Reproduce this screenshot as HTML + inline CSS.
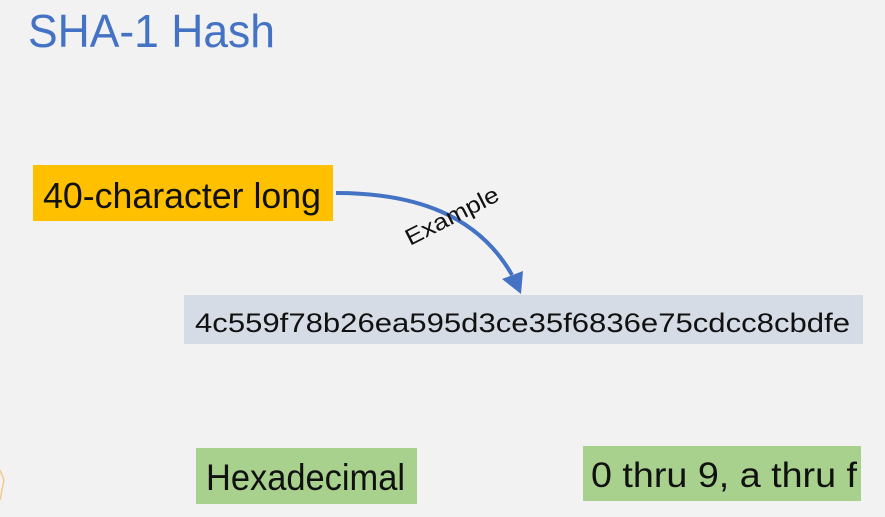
<!DOCTYPE html>
<html><head><meta charset="utf-8"><style>
html,body{margin:0;padding:0;background:#f2f2f2;}
svg{display:block;}
text{font-family:"Liberation Sans",sans-serif;}
</style></head><body>
<svg width="885" height="517" viewBox="0 0 885 517" xmlns="http://www.w3.org/2000/svg">
<rect width="885" height="517" fill="#f2f2f2"/>
<text x="28" y="47" font-size="46" fill="#4472c4" textLength="247" lengthAdjust="spacingAndGlyphs">SHA-1 Hash</text>
<rect x="33" y="165" width="300" height="56" fill="#ffc000"/>
<text x="43" y="208" font-size="36" fill="#111" textLength="278" lengthAdjust="spacingAndGlyphs">40-character long</text>
<rect x="184" y="295" width="679" height="49" fill="#d6dce5"/>
<text x="195" y="332" font-size="27" fill="#111" textLength="655" lengthAdjust="spacingAndGlyphs">4c559f78b26ea595d3ce35f6836e75cdcc8cbdfe</text>
<path d="M336 193 C415 193 478 215 512 275" fill="none" stroke="#4472c4" stroke-width="4"/>
<polygon points="502,279 523,271 521,294" fill="#4472c4"/>
<text x="0" y="0" font-size="23" fill="#111" transform="translate(410,246) rotate(-27)" textLength="102" lengthAdjust="spacingAndGlyphs">Example</text>
<rect x="196" y="448" width="221" height="56" fill="#a9d18e"/>
<text x="206" y="490" font-size="37" fill="#111" textLength="199" lengthAdjust="spacingAndGlyphs">Hexadecimal</text>
<rect x="583" y="446" width="278" height="55" fill="#a9d18e"/>
<text x="591" y="487" font-size="35" fill="#111" textLength="266" lengthAdjust="spacingAndGlyphs">0 thru 9, a thru f</text>
<path d="M0 470 L4 480 L0 500" fill="none" stroke="#f4c890" stroke-width="1.5"/>
</svg>
</body></html>
